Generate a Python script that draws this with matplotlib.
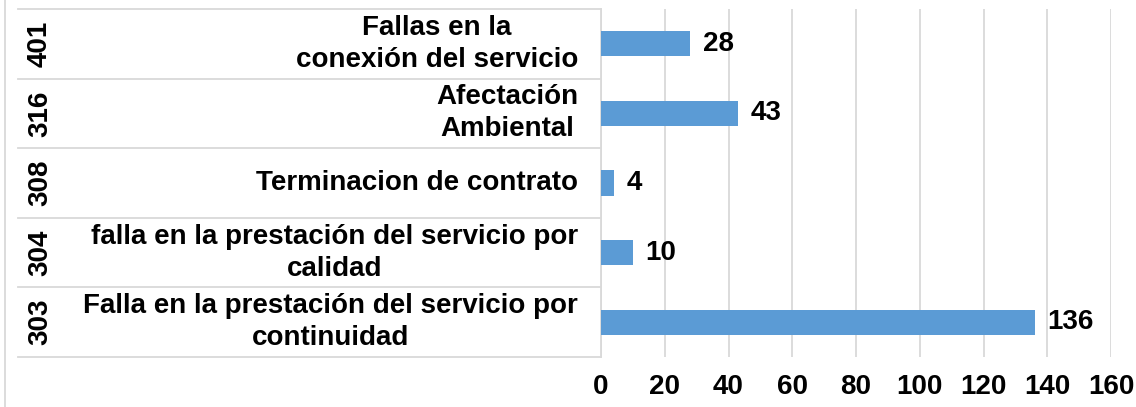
import matplotlib
matplotlib.use("Agg")
import matplotlib.pyplot as plt
from matplotlib.lines import Line2D

# data (bottom to top)
codes = ["303", "304", "308", "316", "401"]
labels = ["Falla en la prestación del servicio por\ncontinuidad",
          "falla en la prestación del servicio por\ncalidad",
          "Terminacion de contrato",
          "Afectación\nAmbiental",
          "Fallas en la\nconexión del servicio"]
values = [136, 10, 4, 43, 28]
xticks = [0, 20, 40, 60, 80, 100, 120, 140, 160]

plt.rcParams['font.family'] = ['Liberation Sans', 'DejaVu Sans']
plt.rcParams['font.weight'] = 'bold'

fig = plt.figure(figsize=(11.36, 4.07), dpi=100)
ax = fig.add_axes([601/1136, 1-357/407, 510/1136, 348/407])

bar_color = '#5B9BD5'
grid_color = '#D9D9D9'
fs = 20

y = list(range(len(values)))
ax.barh(y, values, height=0.36, color=bar_color, zorder=3)
ax.set_xlim(0, 160)
ax.set_ylim(-0.5, len(values) - 0.5)
ax.set_xticks(xticks)
ax.set_xticklabels([str(t) for t in xticks], fontsize=fs, fontweight='bold')
ax.set_yticks([])
ax.tick_params(axis='x', length=0, pad=12)
ax.xaxis.grid(True, color=grid_color, linewidth=1.3, zorder=0)
for s in ['top', 'right', 'bottom']:
    ax.spines[s].set_visible(False)
ax.spines['left'].set_color(grid_color)
ax.spines['left'].set_linewidth(1.3)

for yi, v in zip(y, values):
    ax.annotate(str(v), (v, yi), xytext=(9, 0), textcoords='offset points',
                ha='left', va='center', fontsize=fs, fontweight='bold')

# category table on the left
trans = ax.get_yaxis_transform()
x_left = (18 - 601) / 510
for b in [i - 0.5 for i in range(len(values) + 1)]:
    ax.add_line(Line2D([x_left, 0], [b, b], transform=trans, color=grid_color,
                       linewidth=1.3, clip_on=False))
for yi, c, lab in zip(y, codes, labels):
    ax.text((40 - 601) / 510, yi, c, transform=trans, rotation=90,
            ha='center', va='center', fontsize=fs, fontweight='bold')
    ax.text((578 - 601) / 510, yi, lab, transform=trans, ha='right', va='center',
            multialignment='center', fontsize=fs, fontweight='bold', linespacing=1.3)

# chart border at the left edge
fig.add_artist(Line2D([5/1136, 5/1136], [0, 1], transform=fig.transFigure,
                      color=grid_color, linewidth=1.3))

fig.savefig("out.png", dpi=100)
